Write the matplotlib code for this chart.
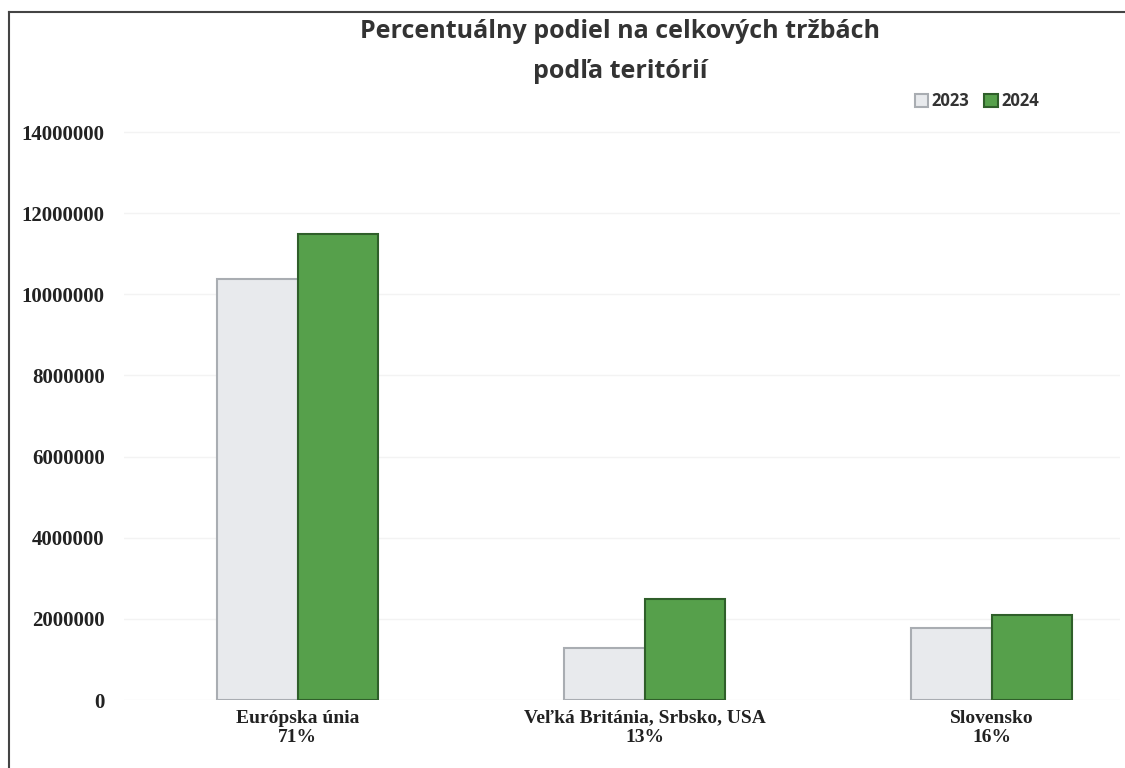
import matplotlib
matplotlib.use("Agg")
import matplotlib.pyplot as plt
from matplotlib.lines import Line2D
import numpy as np

categories = ["Európska únia\n71%", "Veľká Británia, Srbsko, USA\n13%", "Slovensko\n16%"]
series_names = ["2023", "2024"]
values_2023 = [10380000, 1280000, 1770000]
values_2024 = [11490000, 2480000, 2090000]
yticks = [0, 2000000, 4000000, 6000000, 8000000, 10000000, 12000000, 14000000]

fig = plt.figure(figsize=(11.25, 7.68), dpi=100)
ax = fig.add_axes([124/1125, (768-700)/768, (1120-124)/1125, (700-118)/768])

x = np.arange(len(categories))
w = 0.232
b1 = ax.bar(x - w/2, values_2023, w, color="#e8eaed", edgecolor="#a9adb2", linewidth=1.5, label=series_names[0], zorder=3)
b2 = ax.bar(x + w/2, values_2024, w, color="#56a04b", edgecolor="#2f5f2a", linewidth=1.5, label=series_names[1], zorder=3)

ax.set_xlim(-0.5, 2.37)
ax.set_ylim(0, 14000000 * (700-118)/(700-132))
ax.set_yticks(yticks)
ax.set_yticklabels([str(v) for v in yticks], fontfamily="Liberation Serif", fontweight="bold", fontsize=15, color="#222222")
ax.set_xticks(x)
ax.set_xticklabels(categories, fontfamily="Liberation Serif", fontweight="bold", fontsize=14, color="#222222", linespacing=1.15)
ax.tick_params(axis="y", length=0, pad=14)
ax.tick_params(axis="x", length=0, pad=7)
ax.yaxis.grid(True, color="#f3f3f3", linewidth=1, zorder=0)
for s in ax.spines.values():
    s.set_visible(False)

fig.text(620/1125, 1 - 31/768, "Percentuálny podiel na celkových tržbách", ha="center", va="center",
         fontfamily="Open Sans", fontweight="bold", fontsize=18, color="#333333")
fig.text(620/1125, 1 - 72/768, "podľa teritórií", ha="center", va="center",
         fontfamily="Open Sans", fontweight="bold", fontsize=18, color="#333333")

leg = fig.legend(handles=[b1, b2], labels=series_names, loc="center", bbox_to_anchor=(977/1125, 1 - 101/768),
                 ncol=2, frameon=False, handlelength=0.8, handleheight=0.8, handletextpad=0.2, columnspacing=0.9,
                 prop={"family": "Open Sans", "weight": "bold", "size": 12})
for t in leg.get_texts():
    t.set_color("#333333")

fig.add_artist(Line2D([9/1125, 9/1125], [0, 1 - 12/768], color="#444444", linewidth=1.5))
fig.add_artist(Line2D([9/1125, 1], [1 - 12/768, 1 - 12/768], color="#444444", linewidth=1.5))

fig.savefig("out.png", dpi=100)
